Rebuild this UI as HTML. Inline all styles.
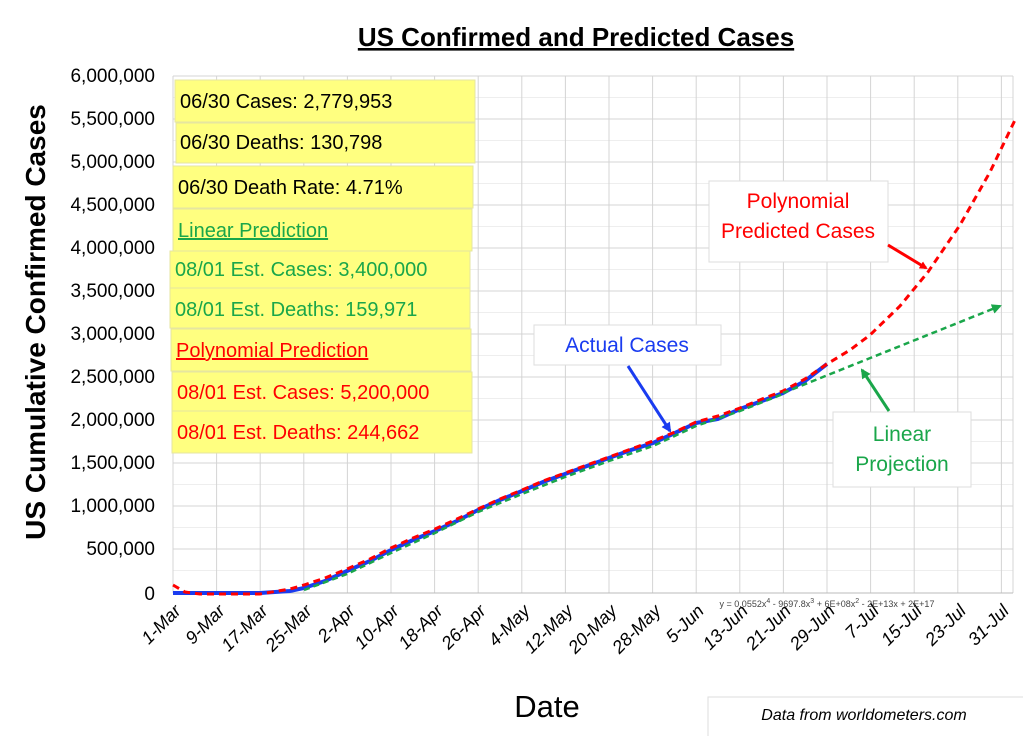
<!DOCTYPE html>
<html><head><meta charset="utf-8"><style>
body{margin:0;background:#fff;}
svg{display:block;font-family:"Liberation Sans",sans-serif;}
</style></head><body>
<svg width="1023" height="736" viewBox="0 0 1023 736">
<defs>
<marker id="ar" markerWidth="8" markerHeight="8" refX="6" refY="4" orient="auto" markerUnits="userSpaceOnUse"><path d="M0,0 L8,4 L0,8 z" fill="#f00"/></marker>
<marker id="ab" markerWidth="10" markerHeight="10" refX="8" refY="5" orient="auto" markerUnits="userSpaceOnUse"><path d="M0,0 L10,5 L0,10 z" fill="#1a3cf0"/></marker>
<marker id="ag" markerWidth="10" markerHeight="10" refX="8" refY="5" orient="auto" markerUnits="userSpaceOnUse"><path d="M0,0 L10,5 L0,10 z" fill="#1aa64a"/></marker>
</defs>
<text x="576" y="46" text-anchor="middle" font-size="26" font-weight="bold" text-decoration="underline">US Confirmed and Predicted Cases</text>
<g stroke="#eee" stroke-width="1">
<path d="M173,97.5H1013M173,140.5H1013M173,183.5H1013M173,226.5H1013M173,269.5H1013M173,312.5H1013M173,355.5H1013M173,398.5H1013M173,441.5H1013M173,484.5H1013M173,527.5H1013M173,570.5H1013"/>
</g>
<g stroke="#d4d4d4" stroke-width="1">
<path d="M173,76H1013M173,119H1013M173,162H1013M173,205H1013M173,248H1013M173,291H1013M173,334H1013M173,377H1013M173,420H1013M173,463H1013M173,506H1013M173,549H1013"/>
<path d="M173,76V593M216.6,76V593M260.2,76V593M303.8,76V593M347.4,76V593M391,76V593M434.6,76V593M478.2,76V593M521.8,76V593M565.4,76V593M609,76V593M652.6,76V593M696.2,76V593M739.8,76V593M783.4,76V593M827,76V593M870.6,76V593M914.2,76V593M957.8,76V593M1001.4,76V593M1013,76V593"/>
</g>
<line x1="173" y1="593" x2="1013" y2="593" stroke="#bbb"/>
<g font-size="19" text-anchor="end">
<text x="155" y="82">6,000,000</text><text x="155" y="125">5,500,000</text><text x="155" y="168">5,000,000</text><text x="155" y="211">4,500,000</text><text x="155" y="254">4,000,000</text><text x="155" y="297">3,500,000</text><text x="155" y="340">3,000,000</text><text x="155" y="383">2,500,000</text><text x="155" y="426">2,000,000</text><text x="155" y="469">1,500,000</text><text x="155" y="512">1,000,000</text><text x="155" y="555">500,000</text><text x="155" y="600">0</text>
</g>
<g font-size="18" font-style="italic" text-anchor="end">
<text transform="translate(182,612) rotate(-45)">1-Mar</text>
<text transform="translate(226,612) rotate(-45)">9-Mar</text>
<text transform="translate(269,612) rotate(-45)">17-Mar</text>
<text transform="translate(313,612) rotate(-45)">25-Mar</text>
<text transform="translate(356,612) rotate(-45)">2-Apr</text>
<text transform="translate(400,612) rotate(-45)">10-Apr</text>
<text transform="translate(444,612) rotate(-45)">18-Apr</text>
<text transform="translate(487,612) rotate(-45)">26-Apr</text>
<text transform="translate(531,612) rotate(-45)">4-May</text>
<text transform="translate(574,612) rotate(-45)">12-May</text>
<text transform="translate(618,612) rotate(-45)">20-May</text>
<text transform="translate(662,612) rotate(-45)">28-May</text>
<text transform="translate(705,612) rotate(-45)">5-Jun</text>
<text transform="translate(749,612) rotate(-45)">13-Jun</text>
<text transform="translate(792,612) rotate(-45)">21-Jun</text>
<text transform="translate(836,612) rotate(-45)">29-Jun</text>
<text transform="translate(880,612) rotate(-45)">7-Jul</text>
<text transform="translate(923,612) rotate(-45)">15-Jul</text>
<text transform="translate(967,612) rotate(-45)">23-Jul</text>
<text transform="translate(1010,612) rotate(-45)">31-Jul</text>
</g>
<text x="827" y="607" text-anchor="middle" font-size="9" fill="#444">y = 0.0552x<tspan font-size="7" dy="-4">4</tspan><tspan dy="4"> - 9697.8x</tspan><tspan font-size="7" dy="-4">3</tspan><tspan dy="4"> + 6E+08x</tspan><tspan font-size="7" dy="-4">2</tspan><tspan dy="4"> - 2E+13x + 2E+17</tspan></text>
<text transform="translate(45,322) rotate(-90)" text-anchor="middle" font-size="28" font-weight="bold">US Cumulative Confirmed Cases</text>
<text x="547" y="717" text-anchor="middle" font-size="31">Date</text>
<rect x="708" y="697" width="320" height="45" fill="#fff" stroke="#ddd"/>
<text x="864" y="720" text-anchor="middle" font-size="16" font-style="italic">Data from worldometers.com</text>
<polyline fill="none" stroke="#1a3cf0" stroke-width="4" points="173,593 260,593 290,591 304,588 325,581 347,571 370,561 391,550 413,540 435,531 457,521 478,510 500,500 522,491 543,482 565,474 587,466 609,458 631,450 653,443 675,433 696,423 718,419 740,409 762,401 783,393 805,381 827,364"/>
<polyline fill="none" stroke="#1aa64a" stroke-width="2.5" stroke-dasharray="6,4" points="304,590 347,574 391,553 435,533 478,512 522,494 565,477 609,461 653,446 696,426 740,411 783,394"/>
<polyline fill="none" stroke="#f00" stroke-width="3" stroke-dasharray="7,5" points="173,585 185,592 200,594 260,594 290,589 304,585 325,578 347,569 370,559 391,548 413,538 435,529 457,519 478,509 500,499 522,490 543,481 565,473 587,465 609,457 631,449 653,441 675,432 696,422 718,416 740,408 762,399 783,391 805,379 827,364 850,350 870,335 900,306 928,272 960,225 990,172 1015,120"/>
<line x1="783" y1="393" x2="1000" y2="306" stroke="#1aa64a" stroke-width="2.5" stroke-dasharray="6,4" marker-end="url(#ag)"/>
<g fill="#ffff80" stroke="#e6e6a0">
<rect x="175" y="80" width="300" height="42"/><rect x="176" y="123" width="299" height="40"/>
<rect x="173" y="166" width="300" height="42"/><rect x="173" y="209" width="299" height="42"/>
<rect x="170" y="251" width="300" height="37"/><rect x="170" y="288" width="300" height="40"/>
<rect x="171" y="329" width="300" height="42"/><rect x="172" y="372" width="300" height="39"/>
<rect x="172" y="411" width="300" height="42"/>
</g>
<g font-size="20">
<text x="180" y="108">06/30 Cases: 2,779,953</text>
<text x="180" y="149">06/30 Deaths: 130,798</text>
<text x="178" y="194">06/30 Death Rate: 4.71%</text>
<text x="178" y="237" fill="#1aa64a" text-decoration="underline">Linear Prediction</text>
<text x="175" y="276" fill="#1aa64a">08/01 Est. Cases: 3,400,000</text>
<text x="175" y="316" fill="#1aa64a">08/01 Est. Deaths: 159,971</text>
<text x="176" y="357" fill="#f00" text-decoration="underline">Polynomial Prediction</text>
<text x="177" y="399" fill="#f00">08/01 Est. Cases: 5,200,000</text>
<text x="177" y="439" fill="#f00">08/01 Est. Deaths: 244,662</text>
</g>
<rect x="709" y="181" width="179" height="81" fill="#fff" stroke="#ddd"/>
<text x="798" y="208" text-anchor="middle" font-size="21" fill="#f00">Polynomial</text>
<text x="798" y="238" text-anchor="middle" font-size="21" fill="#f00">Predicted Cases</text>
<line x1="888" y1="245" x2="926" y2="268" stroke="#f00" stroke-width="3" marker-end="url(#ar)"/>
<rect x="534" y="325" width="187" height="40" fill="#fff" stroke="#ddd"/>
<text x="627" y="352" text-anchor="middle" font-size="21" fill="#1a3cf0">Actual Cases</text>
<line x1="628" y1="366" x2="670" y2="431" stroke="#1a3cf0" stroke-width="3" marker-end="url(#ab)"/>
<rect x="833" y="412" width="138" height="75" fill="#fff" stroke="#ddd"/>
<text x="902" y="441" text-anchor="middle" font-size="21" fill="#1aa64a">Linear</text>
<text x="902" y="471" text-anchor="middle" font-size="21" fill="#1aa64a">Projection</text>
<line x1="889" y1="411" x2="862" y2="370" stroke="#1aa64a" stroke-width="3" marker-end="url(#ag)"/>
</svg>
</body></html>
